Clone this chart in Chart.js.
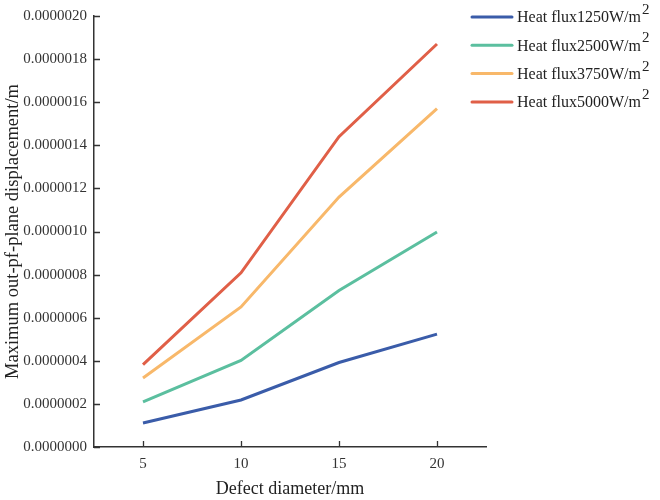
<!DOCTYPE html>
<html>
<head>
<meta charset="utf-8">
<script src="https://cdn.jsdelivr.net/npm/chart.js@4"></script>
<style>
  html, body { margin: 0; padding: 0; background: #fff; }
  #wrap { width: 660px; height: 500px; }
</style>
</head>
<body>
<div id="wrap"><canvas id="chart"></canvas></div>
<script>
const diameters = [5, 10, 15, 20];
const flux1250 = [1.11e-7, 2.18e-7, 3.92e-7, 5.24e-7];
const flux2500 = [2.09e-7, 4.02e-7, 7.26e-7, 9.98e-7];
const flux3750 = [3.2e-7, 6.5e-7, 1.16e-6, 1.57e-6];
const flux5000 = [3.82e-7, 8.08e-7, 1.44e-6, 1.87e-6];
const seriesNames = ['Heat flux1250W/m', 'Heat flux2500W/m', 'Heat flux3750W/m', 'Heat flux5000W/m'];
const seriesColors = ['#3a5ca9', '#5bbf9f', '#f8b86a', '#e05f47'];
const yTicks = [0, 2e-7, 4e-7, 6e-7, 8e-7, 1e-6, 1.2e-6, 1.4e-6, 1.6e-6, 1.8e-6, 2e-6];

const serif = '"Liberation Serif", "DejaVu Serif", serif';
const axisColor = '#333333';

const toPoints = values => values.map((v, i) => ({ x: diameters[i], y: v }));

const datasets = [flux1250, flux2500, flux3750, flux5000].map((values, i) => ({
    label: seriesNames[i],
    data: toPoints(values),
    borderColor: seriesColors[i],
    backgroundColor: seriesColors[i],
    borderWidth: 3,
    pointRadius: 0,
    tension: 0,
    fill: false,
}));

// inward tick marks on both axes
const innerTicks = {
    id: 'innerTicks',
    afterDraw(chart) {
        const { ctx, scales: { x, y } } = chart;
        ctx.save();
        ctx.strokeStyle = axisColor;
        ctx.lineWidth = 1.3;
        ctx.beginPath();
        x.ticks.forEach(t => {
            const px = Math.round(x.getPixelForValue(t.value)) + 0.5;
            ctx.moveTo(px, y.bottom);
            ctx.lineTo(px, y.bottom - 6);
        });
        y.ticks.forEach(t => {
            const py = Math.round(y.getPixelForValue(t.value)) + 0.5;
            ctx.moveTo(x.left, py);
            ctx.lineTo(x.left + 6, py);
        });
        ctx.stroke();
        ctx.restore();
    },
};

// legend with superscript unit
const sideLegend = {
    id: 'sideLegend',
    afterDraw(chart) {
        const { ctx } = chart;
        ctx.save();
        chart.data.datasets.forEach((ds, i) => {
            const rowY = 17 + i * 28.3;
            ctx.strokeStyle = ds.borderColor;
            ctx.lineWidth = 3;
            ctx.lineCap = 'round';
            ctx.beginPath();
            ctx.moveTo(472, rowY);
            ctx.lineTo(512, rowY);
            ctx.stroke();
            ctx.fillStyle = '#222';
            ctx.textBaseline = 'middle';
            ctx.font = '16px ' + serif;
            ctx.fillText(ds.label, 517, rowY + 1);
            const w = ctx.measureText(ds.label).width;
            ctx.font = '15px ' + serif;
            ctx.fillText('2', 517 + w + 1, rowY - 7);
        });
        ctx.restore();
    },
};

new Chart(document.getElementById('chart'), {
    type: 'line',
    data: { datasets },
    plugins: [innerTicks, sideLegend],
    options: {
        responsive: true,
        maintainAspectRatio: false,
        animation: false,
        layout: { padding: { top: 16, right: 174, left: 0, bottom: 0 } },
        plugins: {
            legend: { display: false },
            tooltip: { enabled: false },
        },
        scales: {
            x: {
                type: 'linear',
                min: 2.5,
                max: 22.5,
                afterBuildTicks: scale => { scale.ticks = diameters.map(v => ({ value: v })); },
                grid: { display: false, drawTicks: false },
                border: { display: true, color: axisColor, width: 1.5 },
                ticks: { color: '#333', font: { family: serif, size: 15 }, padding: 8 },
                title: {
                    display: true,
                    text: 'Defect diameter/mm',
                    color: '#222',
                    font: { family: serif, size: 18 },
                    padding: { top: 4, bottom: 0 },
                },
                afterFit: scale => { scale.height = 53; },
            },
            y: {
                min: 0,
                max: 2e-6,
                afterBuildTicks: scale => { scale.ticks = yTicks.map(v => ({ value: v })); },
                grid: { display: false, drawTicks: false },
                border: { display: true, color: axisColor, width: 1.5 },
                ticks: {
                    color: '#333',
                    font: { family: serif, size: 15 },
                    padding: 7,
                    callback: v => v.toFixed(7),
                },
                title: {
                    display: true,
                    text: 'Maximum out-pf-plane displacement/m',
                    color: '#222',
                    font: { family: serif, size: 18.5 },
                    padding: { top: 2, bottom: 4 },
                },
                afterFit: scale => { scale.width = 94; },
            },
        },
    },
});
</script>
</body>
</html>
